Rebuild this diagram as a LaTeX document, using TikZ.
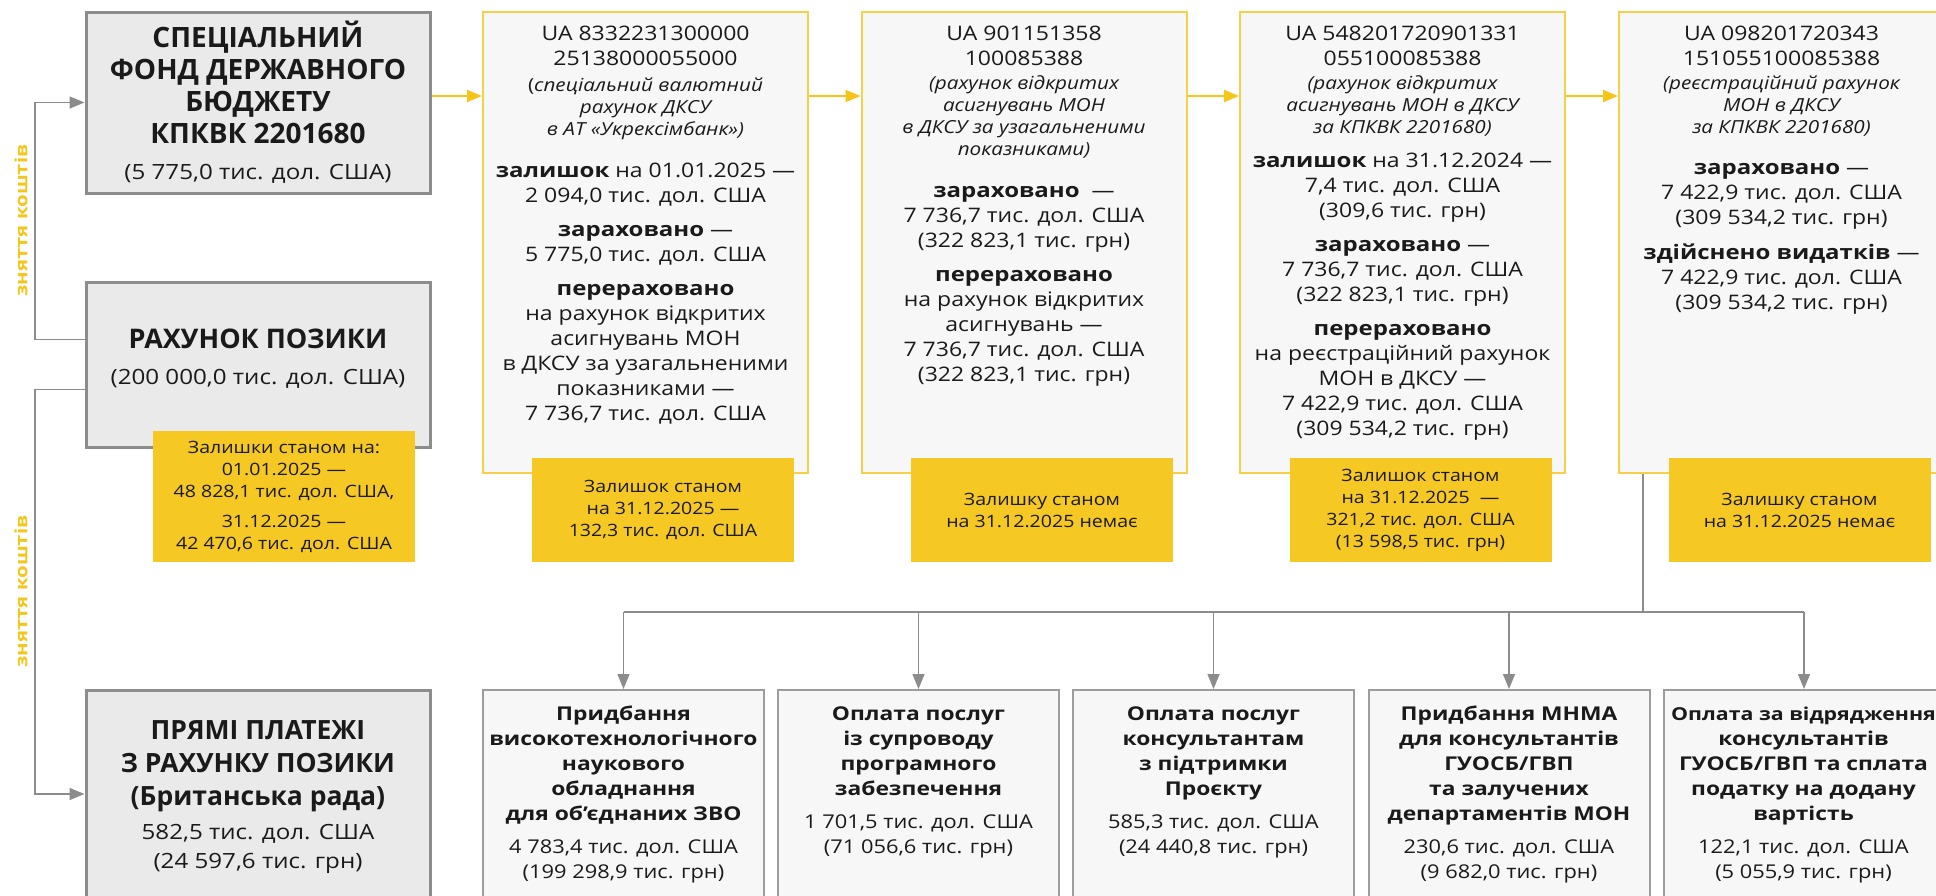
\documentclass[tikz,border=0pt]{standalone}
\usepackage{fontspec}
\setmainfont{Open Sans}[UprightFeatures={FakeStretch=1.15}, BoldFeatures={FakeStretch=1.2}, ItalicFeatures={FakeStretch=1.15}]
\newfontfamily\titlefont{Open Sans}
\usetikzlibrary{arrows.meta}

\definecolor{gold}{HTML}{F5C518}
\definecolor{goldfill}{HTML}{F5C823}
\definecolor{goldline}{HTML}{F7D04A}
\definecolor{greyline}{HTML}{8C8C8C}
\definecolor{greyfill}{HTML}{EAEAEA}
\definecolor{paperfill}{HTML}{F7F7F7}
\definecolor{ink}{HTML}{1A1A1A}

\newcommand{\tp}{\rule{0pt}{1em}}

\begin{document}
\begin{tikzpicture}[x=1pt,y=-1pt,
    mainbox/.style={draw=greyline, fill=greyfill, line width=3pt, minimum width=344, inner sep=0},
    accbox/.style={draw=goldline, fill=paperfill, line width=2pt, minimum width=325, minimum height=461, inner sep=0},
    restbox/.style={fill=goldfill, minimum width=262, minimum height=104, inner sep=0, align=center, text=ink, font=\fontsize{17}{22}\selectfont},
    paybox/.style={draw=greyline!85, fill=paperfill, line width=2pt, minimum width=281, minimum height=220, inner sep=0},
    txt/.style={anchor=north, inner sep=0, align=center, text=ink, font=\fontsize{20}{25}\selectfont},
    title/.style={txt, font=\titlefont\bfseries\fontsize{28}{32}\selectfont},
    accnote/.style={txt, font=\fontsize{18}{22}\selectfont\itshape},
    paytxt/.style={txt, font=\fontsize{19}{25}\selectfont},
    yarrow/.style={draw=gold, line width=2pt, -{Triangle[length=15pt,width=12pt]}},
    gline/.style={draw=greyline, line width=1.5pt},
    garrow/.style={gline, -{Triangle[length=15pt,width=12pt]}},
    takelabel/.style={rotate=90, text=gold, inner sep=0, font=\fontsize{17}{20}\selectfont\bfseries}]

\useasboundingbox (0,0) rectangle (1936,895);

% left column
\node[mainbox, minimum height=181] (fundA) at (258,102.5) {};
\node[mainbox, minimum height=165] (loan) at (258,364.5) {};
\node[mainbox, minimum height=208] (direct) at (258,794) {};
\node[restbox, minimum height=131] (loanrest) at (284,496.5) {Залишки станом на:\\01.01.2025 —\\48 828,1 тис. дол. США,\\[8pt]31.12.2025 —\\42 470,6 тис. дол. США};

\node[title] (fundAtitle) at (258,19.1) {\tp СПЕЦІАЛЬНИЙ\\ФОНД ДЕРЖАВНОГО\\БЮДЖЕТУ\\КПКВК 2201680};
\node[txt, font=\fontsize{21}{25}\selectfont] (fundAsum) at (258,158.6) {\tp(5 775,0 тис. дол. США)};
\node[title, font=\titlefont\bfseries\fontsize{27}{32}\selectfont] (loantitle) at (258,321.7) {\tp РАХУНОК ПОЗИКИ};
\node[txt, font=\fontsize{21}{25}\selectfont] (loansum) at (258,363.6) {\tp(200 000,0 тис. дол. США)};
\node[title, font=\titlefont\bfseries\fontsize{26.5}{33}\selectfont] (directtitle) at (258,713.1) {\tp ПРЯМІ ПЛАТЕЖІ\\З РАХУНКУ ПОЗИКИ\\(Британська рада)};
\node[txt, font=\fontsize{21}{29}\selectfont] (directsum) at (258,818.6) {\tp 582,5 тис. дол. США\\(24 597,6 тис. грн)};

% withdrawal lines
\coordinate (takeup) at (35,102.5);
\coordinate (takedown) at (35,794);
\draw[garrow] ([yshift=25pt]loan.west) -| (takeup) -- (fundA.west);
\draw[garrow] ([yshift=-25pt]loan.west) -| (takedown) -- (direct.west);
\node[takelabel] (takeuplabel) at (21,220.5) {зняття коштів};
\node[takelabel] (takedownlabel) at (21,591.5) {зняття коштів};

% accounts
\node[accbox] (acc1) at (645.5,242.5) {};
\node[accbox] (acc2) at (1024,242.5) {};
\node[accbox] (acc3) at (1402.5,242.5) {};
\node[accbox] (acc4) at (1781.5,242.5) {};

\coordinate (arrowrow) at (0,96);
\draw[yarrow] (fundA.east |- arrowrow) -- (acc1.west |- arrowrow);
\draw[yarrow] (acc1.east |- arrowrow) -- (acc2.west |- arrowrow);
\draw[yarrow] (acc2.east |- arrowrow) -- (acc3.west |- arrowrow);
\draw[yarrow] (acc3.east |- arrowrow) -- (acc4.west |- arrowrow);

\node[txt] (acc1num) at (645.5,20.2) {\tp UA 8332231300000\\25138000055000};
\node[accnote] (acc1note) at (645.5,73.5) {\tp{\upshape(}спеціальний валютний\\рахунок ДКСУ\\в АТ «Укрексімбанк»)};
\node[txt] (acc1bal) at (645.5,157.2) {\tp\textbf{залишок} на 01.01.2025 —\\2 094,0 тис. дол. США};
\node[txt] (acc1in) at (645.5,216.2) {\tp\textbf{зараховано} —\\5 775,0 тис. дол. США};
\node[txt] (acc1out) at (645.5,275.2) {\tp\textbf{перераховано}\\на рахунок відкритих\\асигнувань МОН\\в ДКСУ за узагальненими\\показниками —\\7 736,7 тис. дол. США};

\node[txt] (acc2num) at (1024,20.2) {\tp UA 901151358\\100085388};
\node[accnote] (acc2note) at (1024,71.5) {\tp(рахунок відкритих\\асигнувань МОН\\в ДКСУ за узагальненими\\показниками)};
\node[txt] (acc2in) at (1024,177.2) {\tp\textbf{зараховано}\ \ —\\7 736,7 тис. дол. США\\(322 823,1 тис. грн)};
\node[txt] (acc2out) at (1024,261.2) {\tp\textbf{перераховано}\\на рахунок відкритих\\асигнувань —\\7 736,7 тис. дол. США\\(322 823,1 тис. грн)};

\node[txt] (acc3num) at (1402.5,20.2) {\tp UA 548201720901331\\055100085388};
\node[accnote] (acc3note) at (1402.5,71.5) {\tp(рахунок відкритих\\асигнувань МОН в ДКСУ\\за КПКВК 2201680)};
\node[txt] (acc3bal) at (1402.5,147.2) {\tp\textbf{залишок} на 31.12.2024 —\\7,4 тис. дол. США\\(309,6 тис. грн)};
\node[txt] (acc3in) at (1402.5,231.2) {\tp\textbf{зараховано} —\\7 736,7 тис. дол. США\\(322 823,1 тис. грн)};
\node[txt] (acc3out) at (1402.5,315.2) {\tp\textbf{перераховано}\\на реєстраційний рахунок\\МОН в ДКСУ —\\7 422,9 тис. дол. США\\(309 534,2 тис. грн)};

\node[txt] (acc4num) at (1781.5,20.2) {\tp UA 098201720343\\151055100085388};
\node[accnote] (acc4note) at (1781.5,71.5) {\tp(реєстраційний рахунок\\МОН в ДКСУ\\за КПКВК 2201680)};
\node[txt] (acc4in) at (1781.5,154.2) {\tp\textbf{зараховано} —\\7 422,9 тис. дол. США\\(309 534,2 тис. грн)};
\node[txt] (acc4out) at (1781.5,239.2) {\tp\textbf{здійснено видатків} —\\7 422,9 тис. дол. США\\(309 534,2 тис. грн)};

% balances at year end
\node[restbox] (rest1) at (663,510) {Залишок станом\\на 31.12.2025 —\\132,3 тис. дол. США};
\node[restbox] (rest2) at (1042,510) {Залишку станом\\на 31.12.2025 немає};
\node[restbox] (rest3) at (1420.5,510) {Залишок станом\\на 31.12.2025 \ —\\321,2 тис. дол. США\\(13 598,5 тис. грн)};
\node[restbox] (rest4) at (1799.5,510) {Залишку станом\\на 31.12.2025 немає};

% spending
\node[paybox] (pay1) at (623.5,800) {};
\node[paybox] (pay2) at (918.5,800) {};
\node[paybox] (pay3) at (1213.5,800) {};
\node[paybox] (pay4) at (1509,800) {};
\node[paybox] (pay5) at (1804,800) {};

\coordinate (split) at (1643,612);
\draw[gline] (acc4.south -| split) -- (split);
\draw[gline] (pay1.north |- split) -- (pay5.north |- split);
\foreach \p in {pay1,pay2,pay3,pay4,pay5}
  \draw[garrow] (\p.north |- split) -- (\p.north);

\node[paytxt] (pay1txt) at (623.5,700.8) {\tp\textbf{Придбання}\\\textbf{високотехнологічного}\\\textbf{наукового}\\\textbf{обладнання}\\\textbf{для об’єднаних ЗВО}\\[8pt]4 783,4 тис. дол. США\\(199 298,9 тис. грн)};
\node[paytxt] (pay2txt) at (918.5,700.8) {\tp\textbf{Оплата послуг}\\\textbf{із супроводу}\\\textbf{програмного}\\\textbf{забезпечення}\\[8pt]1 701,5 тис. дол. США\\(71 056,6 тис. грн)};
\node[paytxt] (pay3txt) at (1213.5,700.8) {\tp\textbf{Оплата послуг}\\\textbf{консультантам}\\\textbf{з підтримки}\\\textbf{Проєкту}\\[8pt]585,3 тис. дол. США\\(24 440,8 тис. грн)};
\node[paytxt] (pay4txt) at (1509,700.8) {\tp\textbf{Придбання МНМА}\\\textbf{для консультантів}\\\textbf{ГУОСБ/ГВП}\\\textbf{та залучених}\\\textbf{департаментів МОН}\\[8pt]230,6 тис. дол. США\\(9 682,0 тис. грн)};
\node[paytxt] (pay5txt) at (1803.5,700.8) {\tp{\fontsize{17.8}{25}\selectfont\textbf{Оплата за відрядження}}\\\textbf{консультантів}\\\textbf{ГУОСБ/ГВП та сплата}\\\textbf{податку на додану}\\\textbf{вартість}\\[8pt]122,1 тис. дол. США\\(5 055,9 тис. грн)};
\end{tikzpicture}
\end{document}
